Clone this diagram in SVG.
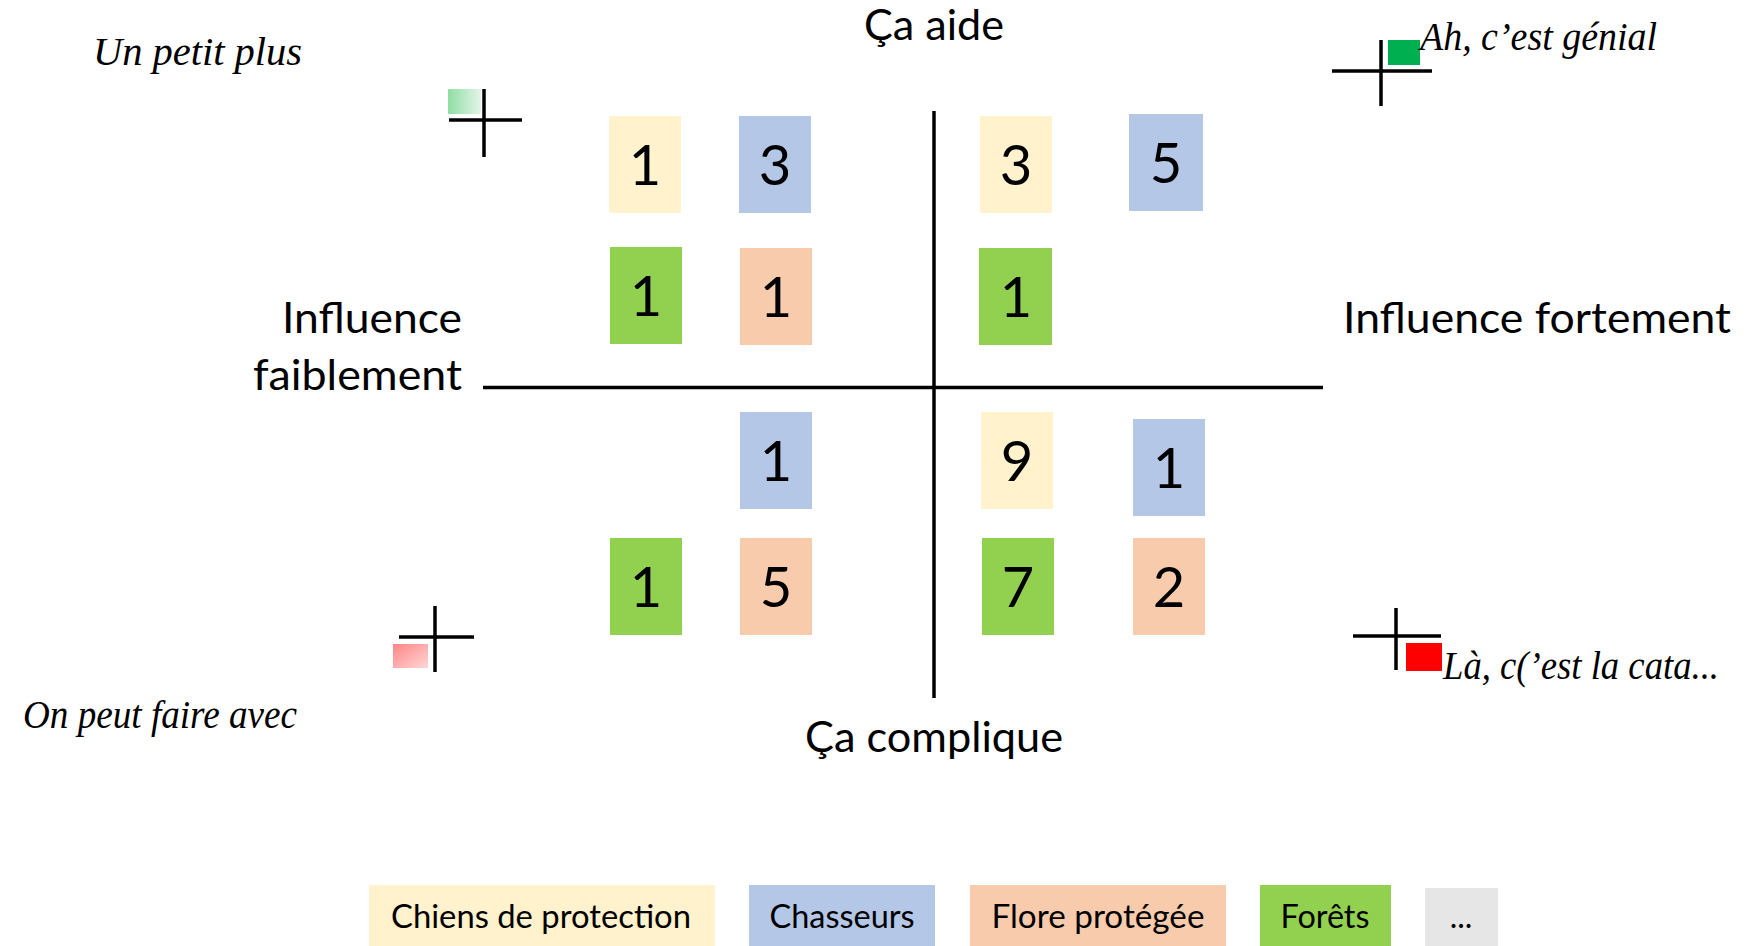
<svg xmlns="http://www.w3.org/2000/svg" width="1749" height="946" viewBox="0 0 1749 946">
<style>
.b{stroke:none}
.cr{fill:#FFF2CC}.bl{fill:#B4C7E7}.or{fill:#F8CBAD}.gr{fill:#92D050}.gy{fill:#E7E6E6}
.num{font-family:Lato,"Open Sans","Liberation Sans",sans-serif;font-size:56px;fill:#000;text-anchor:middle}
.lab{font-family:Lato,"Open Sans","Liberation Sans",sans-serif;font-size:43px;fill:#000}
.leg{font-family:Lato,"Open Sans","Liberation Sans",sans-serif;font-size:32px;fill:#000;text-anchor:middle}
.scr{font-family:"Liberation Serif","DejaVu Serif",serif;font-style:italic;font-size:40px;fill:#000}
.ax{stroke:#000;stroke-width:3.5;fill:none}
.x{stroke:#000;stroke-width:3.5;fill:none}
</style>
<defs>
<linearGradient id="gG" x1="0" y1="0" x2="1" y2="0">
<stop offset="0" stop-color="#8FDDA3"/><stop offset="1" stop-color="#E3F5E8"/>
</linearGradient>
<linearGradient id="gR" x1="0" y1="0" x2="1" y2="1">
<stop offset="0" stop-color="#FF8585"/><stop offset="1" stop-color="#FFD6D6"/>
</linearGradient>
</defs>
<rect width="1749" height="946" fill="#fff"/>

<g id="connectors">
<line class="ax" x1="483" y1="387.5" x2="1323" y2="387.5"/>
<line class="ax" x1="934" y1="111" x2="934" y2="698"/>
</g>

<g id="axis-labels">
<text id="lbl-top" class="lab" x="934" y="40" text-anchor="middle" textLength="140" lengthAdjust="spacingAndGlyphs">Ça aide</text>
<text id="lbl-bottom" class="lab" x="934" y="752" text-anchor="middle" textLength="258" lengthAdjust="spacingAndGlyphs">Ça complique</text>
<text id="lbl-left" class="lab" text-anchor="end"><tspan x="462" y="333" textLength="180" lengthAdjust="spacingAndGlyphs">Influence</tspan></text>
<text id="lbl-left2" class="lab" text-anchor="end"><tspan x="462" y="390" textLength="209" lengthAdjust="spacingAndGlyphs">faiblement</tspan></text>
<text id="lbl-right" class="lab" x="1343" y="333" textLength="388" lengthAdjust="spacingAndGlyphs">Influence fortement</text>
</g>

<g id="corner-tl">
<rect x="448" y="89" width="33" height="25" fill="url(#gG)"/>
<line class="x" x1="449" y1="120" x2="522" y2="120"/>
<line class="x" x1="484" y1="89" x2="484" y2="157"/>
<text class="scr" x="93" y="65" textLength="209" lengthAdjust="spacingAndGlyphs">Un petit plus</text>
</g>
<g id="corner-tr">
<rect x="1388" y="40" width="32" height="25" fill="#00B050"/>
<line class="x" x1="1332" y1="71" x2="1432" y2="71"/>
<line class="x" x1="1381" y1="40" x2="1381" y2="106"/>
<text class="scr" x="1420" y="50" textLength="237" lengthAdjust="spacingAndGlyphs">Ah, c’est génial</text>
</g>
<g id="corner-bl">
<rect x="393" y="644" width="35" height="24" fill="url(#gR)"/>
<line class="x" x1="399" y1="637" x2="474" y2="637"/>
<line class="x" x1="435" y1="606" x2="435" y2="672"/>
<text class="scr" x="23" y="728" textLength="274" lengthAdjust="spacingAndGlyphs">On peut faire avec</text>
</g>
<g id="corner-br">
<rect x="1406" y="643" width="36" height="28" fill="#FF0000"/>
<line class="x" x1="1353" y1="636" x2="1441" y2="636"/>
<line class="x" x1="1396" y1="608" x2="1396" y2="670"/>
<text class="scr" x="1443" y="679" textLength="276" lengthAdjust="spacingAndGlyphs">Là, c(’est la cata...</text>
</g>

<g id="n-tl-chiens"><rect class="cr" x="609" y="116" width="72" height="97"/><text class="num" x="645" y="185">1</text></g>
<g id="n-tl-chasseurs"><rect class="bl" x="739" y="116" width="72" height="97"/><text class="num" x="775" y="185">3</text></g>
<g id="n-tl-forets"><rect class="gr" x="610" y="247" width="72" height="97"/><text class="num" x="646" y="316">1</text></g>
<g id="n-tl-flore"><rect class="or" x="740" y="248" width="72" height="97"/><text class="num" x="776" y="317">1</text></g>

<g id="n-tr-chiens"><rect class="cr" x="980" y="116" width="72" height="97"/><text class="num" x="1016" y="185">3</text></g>
<g id="n-tr-chasseurs"><rect class="bl" x="1129" y="114" width="74" height="97"/><text class="num" x="1166" y="183">5</text></g>
<g id="n-tr-forets"><rect class="gr" x="979" y="248" width="73" height="97"/><text class="num" x="1016" y="317">1</text></g>

<g id="n-bl-chasseurs"><rect class="bl" x="740" y="412" width="72" height="97"/><text class="num" x="776" y="481">1</text></g>
<g id="n-bl-forets"><rect class="gr" x="610" y="538" width="72" height="97"/><text class="num" x="646" y="607">1</text></g>
<g id="n-bl-flore"><rect class="or" x="740" y="538" width="72" height="97"/><text class="num" x="776" y="607">5</text></g>

<g id="n-br-chiens"><rect class="cr" x="981" y="412" width="72" height="97"/><text class="num" x="1017" y="481">9</text></g>
<g id="n-br-chasseurs"><rect class="bl" x="1133" y="419" width="72" height="97"/><text class="num" x="1169" y="488">1</text></g>
<g id="n-br-forets"><rect class="gr" x="982" y="538" width="72" height="97"/><text class="num" x="1018" y="607">7</text></g>
<g id="n-br-flore"><rect class="or" x="1133" y="538" width="72" height="97"/><text class="num" x="1169" y="607">2</text></g>

<g id="legend">
<g id="leg-chiens"><rect class="cr" x="369" y="885" width="346" height="61"/><text class="leg" x="541" y="928" textLength="300" lengthAdjust="spacingAndGlyphs">Chiens de protection</text></g>
<g id="leg-chasseurs"><rect class="bl" x="749" y="885" width="186" height="61"/><text class="leg" x="842" y="928" textLength="145" lengthAdjust="spacingAndGlyphs">Chasseurs</text></g>
<g id="leg-flore"><rect class="or" x="970" y="885" width="256" height="61"/><text class="leg" x="1098" y="928" textLength="213" lengthAdjust="spacingAndGlyphs">Flore protégée</text></g>
<g id="leg-forets"><rect class="gr" x="1260" y="885" width="131" height="61"/><text class="leg" x="1325" y="928" textLength="89" lengthAdjust="spacingAndGlyphs">Forêts</text></g>
<g id="leg-more"><rect class="gy" x="1425" y="888" width="73" height="58"/><text class="leg" x="1461" y="928">...</text></g>
</g>
</svg>
